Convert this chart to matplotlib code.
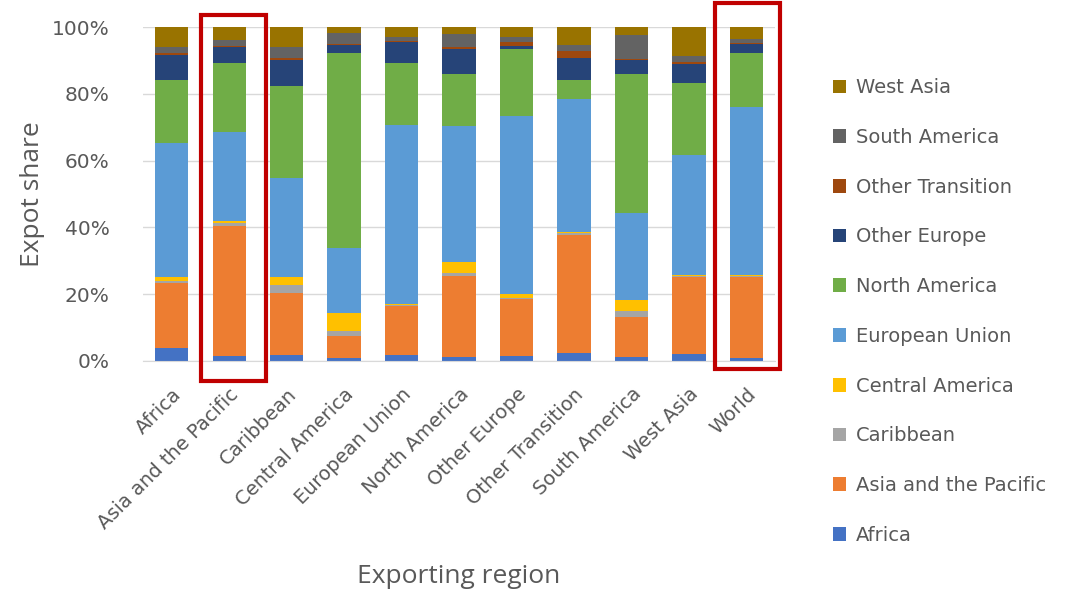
import numpy as np
import matplotlib
matplotlib.use("Agg")
import matplotlib.pyplot as plt
import matplotlib.transforms as mtransforms
from matplotlib.patches import Rectangle
from matplotlib.ticker import PercentFormatter

plt.rcParams['font.family'] = ['DejaVu Sans']

# Exporting regions (x axis)
exporters = ["Africa", "Asia and the Pacific", "Caribbean", "Central America",
             "European Union", "North America", "Other Europe", "Other Transition",
             "South America", "West Asia", "World"]

# Destination shares (%), one list per importing region, bottom to top
africa        = [3.8, 1.6, 1.8, 0.8, 1.8, 1.3, 1.6, 2.3, 1.1, 2.0, 0.8]
asia_pacific  = [19.6, 38.9, 18.7, 6.7, 14.7, 24.1, 16.9, 35.4, 12.2, 23.2, 24.4]
caribbean     = [0.5, 0.8, 2.4, 1.5, 0.3, 1.0, 0.3, 0.5, 1.7, 0.3, 0.3]
central_am    = [1.1, 0.6, 2.3, 5.5, 0.3, 3.1, 1.3, 0.3, 3.2, 0.3, 0.3]
eu            = [40.3, 26.7, 29.6, 19.2, 53.5, 40.8, 53.2, 39.9, 26.0, 35.8, 50.1]
north_am      = [18.7, 20.6, 27.6, 58.6, 18.6, 15.7, 20.2, 5.6, 41.8, 21.7, 16.4]
other_europe  = [7.7, 4.8, 7.8, 2.2, 6.3, 7.5, 0.8, 6.7, 4.0, 5.7, 2.5]
other_trans   = [0.6, 0.4, 0.4, 0.3, 0.3, 0.4, 1.2, 2.1, 0.5, 0.5, 0.5]
south_am      = [1.6, 1.6, 3.4, 3.5, 1.2, 4.1, 1.5, 1.7, 7.2, 1.8, 1.2]
west_asia     = [6.1, 4.0, 6.0, 1.7, 3.0, 2.0, 3.0, 5.5, 2.3, 8.7, 3.5]

series = [
    ("Africa", africa, "#4472C4"),
    ("Asia and the Pacific", asia_pacific, "#ED7D31"),
    ("Caribbean", caribbean, "#A5A5A5"),
    ("Central America", central_am, "#FFC000"),
    ("European Union", eu, "#5B9BD5"),
    ("North America", north_am, "#70AD47"),
    ("Other Europe", other_europe, "#264478"),
    ("Other Transition", other_trans, "#9E480E"),
    ("South America", south_am, "#636363"),
    ("West Asia", west_asia, "#997300"),
]

fig = plt.figure(figsize=(10.81, 5.91), dpi=100)
ax = fig.add_axes([0.1323, 0.3892, 0.5847, 0.5651])

x = np.arange(len(exporters))
bottom = np.zeros(len(exporters))
handles = []
for name, vals, col in series:
    vals = np.array(vals, dtype=float)
    b = ax.bar(x, vals, 0.58, bottom=bottom, color=col, label=name, zorder=2)
    handles.append(b)
    bottom += vals

ax.set_xlim(-0.5, len(exporters) - 0.5)
ax.set_ylim(0, 100)
ax.set_yticks(np.arange(0, 101, 20))
ax.yaxis.set_major_formatter(PercentFormatter(decimals=0))
ax.grid(axis='y', color='#D9D9D9', linewidth=1, zorder=0)
for s in ['top', 'right', 'left']:
    ax.spines[s].set_visible(False)
ax.spines['bottom'].set_color('#D9D9D9')
ax.tick_params(length=0, colors='#595959')
ax.tick_params(axis='y', labelsize=14.5, pad=24)
ax.set_xticks(x)
ax.set_xticklabels(exporters, rotation=45, ha='right', rotation_mode='anchor', fontsize=14)
ax.tick_params(axis='x', pad=17)
shift = mtransforms.ScaledTranslation(0.0, 0, fig.dpi_scale_trans)
for lbl in ax.get_xticklabels():
    lbl.set_transform(lbl.get_transform() + shift)
ax.set_ylabel("Expot share", fontsize=19, color='#595959', labelpad=5,
              family='Open Sans')
ax.set_xlabel("Exporting region", fontsize=19, color='#595959', labelpad=23,
              family='Open Sans')

# red highlight boxes
for x0, x1, y0, y1 in [(0.505, 1.638, -0.06, 1.036), (9.46, 10.59, -0.025, 1.072)]:
    r = Rectangle((x0, y0 * 100), x1 - x0, (y1 - y0) * 100, fill=False,
                  edgecolor='#C00000', linewidth=3, clip_on=False, zorder=5)
    ax.add_patch(r)

leg = fig.legend(handles[::-1], [s[0] for s in series][::-1],
                 loc='center left', bbox_to_anchor=(0.754, 0.473),
                 frameon=False, fontsize=14, labelspacing=1.58,
                 handlelength=0.7, handleheight=0.7, handletextpad=0.5)
for t in leg.get_texts():
    t.set_color('#595959')

fig.savefig("out.png", dpi=100)
